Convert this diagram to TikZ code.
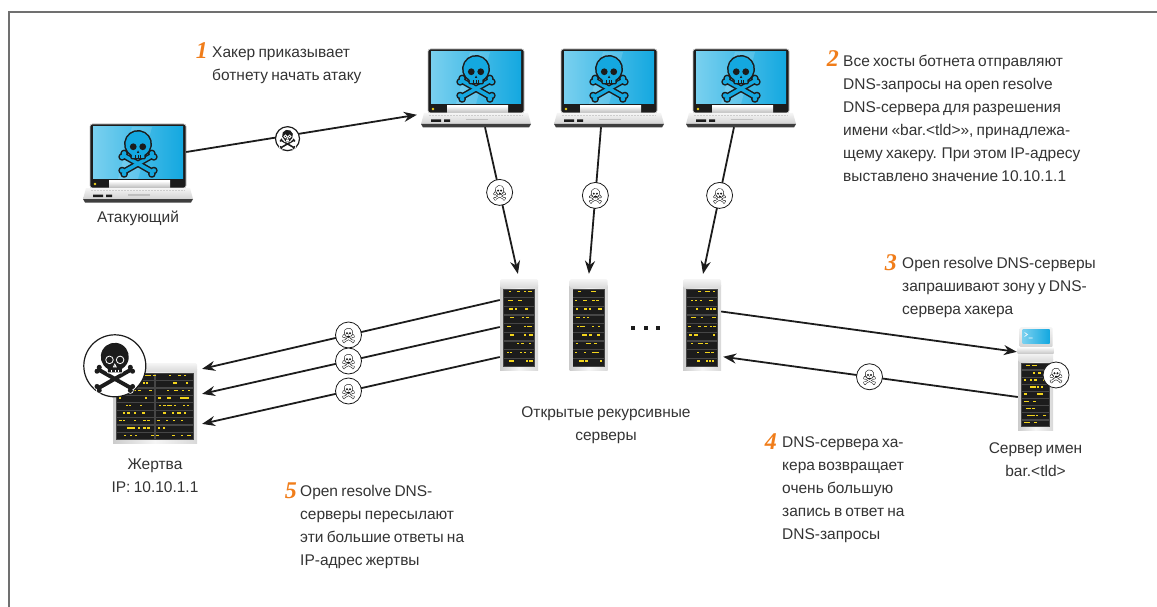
\documentclass[tikz,border=0pt]{standalone}
\usepackage{fontspec}
\setmainfont{Liberation Sans}[WordSpace={0.75}]
\newfontfamily\stepfont{Liberation Serif}
\usepackage{tikz}
\usetikzlibrary{arrows.meta,calc,positioning}
\definecolor{Ink}{HTML}{1C1C1C}
\definecolor{TextGray}{HTML}{333333}
\definecolor{Frame}{HTML}{707070}
\definecolor{Screen}{HTML}{14A8E0}
\definecolor{ScreenLight}{HTML}{79D0EF}
\definecolor{StepOrange}{HTML}{F07D1A}
\definecolor{Led}{HTML}{F2D41C}
\newcommand\mainsize{\fontsize{15.5}{23}\selectfont}
% skull parts, unit = head radius, y grows downwards
\newcommand\bonepath{(-1.169,1.072) -- (-1.031,.828) -- (1.169,2.078) -- (1.031,2.322) -- cycle
  (-1.27,1.03) circle[radius=.18] (-1.11,.75) circle[radius=.18]
  (1.11,2.40) circle[radius=.18] (1.27,2.12) circle[radius=.18]}
\newcommand\headpath{(-.5,1.12) -- (-.5,.866) arc[start angle=120,end angle=420,radius=1] -- (.5,1.12) -- cycle}
\tikzset{
  flow/.style={draw=Ink,line width=1.8pt,-{Stealth[length=13pt,width=10pt]},shorten >=5pt},
  device/.style={inner sep=0pt,draw=none},
  badge/.style={circle,draw=Ink,fill=white,line width=.8pt,minimum size=26pt,inner sep=0pt},
  darkbadge/.style={circle,draw=Ink,fill=white,line width=1.2pt,inner sep=0pt},
  note/.style={align=left,anchor=north west,inner sep=0pt},
  caption/.style={align=center,inner sep=0pt},
  stepnum/.style={font=\stepfont\bfseries\itshape\fontsize{24}{24}\selectfont,text=StepOrange,inner sep=0pt,anchor=base east},
  screen skull/.style={skull rim/.style={fill=Ink,draw=Ink,line width=3pt,line join=round},
    skull body/.style={fill=Screen},skull eye/.style={fill=Ink},skull teeth/.style={draw=Ink,line width=1pt}},
  badge skull/.style={skull rim/.style={fill=Ink,draw=Ink,line width=1.1pt,line join=round},
    skull body/.style={fill=white},skull eye/.style={fill=Ink},skull teeth/.style={draw=Ink,line width=.4pt}},
  dark skull/.style={skull rim/.style={fill=white,draw=white,line width=1.6pt,line join=round},
    skull body/.style={fill=Ink},skull eye/.style={fill=Ink,draw=white,line width=.8pt},skull teeth/.style={draw=white,line width=.6pt}},
  pics/skull/.style={code={
    \path[skull rim] \bonepath; \path[skull rim,xscale=-1] \bonepath;
    \path[skull body] \bonepath; \path[skull body,xscale=-1] \bonepath;
    \path[skull rim] \headpath; \path[skull body] \headpath;
    \path[skull eye] (-.38,.22) circle[radius=.27] (.38,.22) circle[radius=.27];
    \path[skull eye] (0,.52) -- (-.1,.72) -- (.1,.72) -- cycle;
    \draw[skull teeth] (-.22,.92) -- (-.22,1.12) (0,.92) -- (0,1.12) (.22,.92) -- (.22,1.12);
  }},
  pics/laptop/.style={code={
    % lid
    \fill[Ink,rounded corners=2.5pt] (-48,-39) rectangle (48,25);
    \draw[gray!45,line width=.7pt,rounded corners=2.5pt] (-48,-39) rectangle (48,25);
    \shade[left color=ScreenLight,right color=Screen] (-45,-36) rectangle (45,16);
    \fill[white,opacity=.15] (-6,-36) -- (14,-36) -- (0,16) -- (-20,16) -- cycle;
    \pic[scale=12.5,screen skull] at (0,-19) {skull};
    \fill[Led] (-43,21) circle[radius=1.4];
    \shade[top color=white,bottom color=gray!55] (-29,18) rectangle (32,25);
    % keyboard deck
    \shade[top color=gray!8,bottom color=gray!35] (-52,25) -- (52,25) -- (55,36) -- (-55,36) -- cycle;
    \draw[gray!40,dash pattern=on 2pt off 1pt,line width=1pt] (-47,27.5) -- (47,27.5);
    \fill[gray!50] (-10,31) rectangle (12,32.5);
    \fill[Ink!85] (-55,36) -- (55,36) -- (53,39.5) -- (-53,39.5) -- cycle;
    \fill[Ink] (-45,31.5) rectangle (-35,34) (-32,31.5) rectangle (-26,34);
  }},
  pics/rack/.style n args={3}{code={
    \pgfmathsetmacro\hw{#1/2}\pgfmathsetmacro\hh{#2/2}
    \pgfmathsetmacro\rowh{(#2-13)/9}\pgfmathsetmacro\colw{(#1-6)/#3}
    \pgfmathtruncatemacro\nled{5*#3}
    \shade[left color=gray!40,right color=gray!30,middle color=gray!8] (-\hw,-\hh+6) rectangle (\hw,\hh);
    \shade[top color=gray!8,bottom color=gray!30,rounded corners=1.5pt] (-\hw,-\hh) rectangle (\hw,-\hh+9);
    \fill[gray!55!black] (-\hw+3,-\hh+10) rectangle (\hw-3,\hh-3);
    \foreach \r in {0,...,8}{
      \pgfmathsetmacro\ry{-\hh+10+\r*\rowh}
      \foreach \c in {1,...,#3}
        \fill[Ink] ({-\hw+3+(\c-1)*\colw+.7},{\ry+.7}) rectangle ({-\hw+3+\c*\colw-.7},{\ry+\rowh-.7});
      \foreach \k in {1,...,\nled}
        \fill[Led] ({-\hw+5+rnd*(#1-12)},{\ry+2}) rectangle +(2.4,1.4);
    }
  }},
  pics/nameserver/.style={code={
    \pic at (0,13) {rack={35}{77}{1}};
    \shade[top color=gray!8,bottom color=gray!35,rounded corners=1.5pt] (-16,-51.5) rectangle (17,-31);
    \shade[left color=ScreenLight,right color=Screen] (-13,-49) rectangle (14,-35);
    \draw[white,line width=.6pt] (-11,-46) -- (-8,-44) -- (-11,-42) (-7,-40.5) -- (-3,-40.5);
    \shade[top color=gray!5,bottom color=gray!40] (-18,-31) rectangle (18,-25.5);
  }},
}
\pgfmathsetseed{7}
\begin{document}
\begin{tikzpicture}[x=1pt,y=-1pt,every node/.style={font=\mainsize,text=TextGray}]
  \useasboundingbox (0,0) rectangle (1157,607);
  \draw[Frame,line width=1.5pt] (1157,12) -- (9,12) -- (9,607);

  % machines
  \node[device,minimum width=108pt,minimum height=78pt] (att) at (138,163) {};
  \node[device,minimum width=108pt,minimum height=78pt] (bot1) at (476,88) {};
  \node[device,minimum width=108pt,minimum height=78pt] (bot2) at (609,88) {};
  \node[device,minimum width=108pt,minimum height=78pt] (bot3) at (741,88) {};
  \node[device,minimum width=38pt,minimum height=91pt] (rack1) at (519,324.5) {};
  \node[device,minimum width=38pt,minimum height=91pt] (rack2) at (588.5,324.5) {};
  \node[device,minimum width=38pt,minimum height=91pt] (rack3) at (702,324.5) {};
  \node[device,minimum width=84pt,minimum height=80pt] (victim) at (155,403) {};
  \node[device,minimum width=35pt,minimum height=103pt] (hs) at (1035.5,378.5) {};
  \foreach \b in {att,bot1,bot2,bot3} \pic at (\b) {laptop};
  \foreach \r in {rack1,rack2,rack3} \pic at (\r) {rack={38}{91}{1}};
  \pic at (victim) {rack={84}{80}{2}};
  \pic at (hs) {nameserver};
  \foreach \x in {633,646,658} \fill[Ink] (\x-2,326) rectangle +(4,4);

  % traffic
  \draw[flow] ([xshift=-6pt,yshift=11pt]att.east) -- coordinate[pos=.43] (m0) ([yshift=-26pt]bot1.west);
  \draw[flow] ([xshift=9pt]bot1.south) -- coordinate[pos=.43] (m1) (rack1.north);
  \draw[flow] ([xshift=-8pt]bot2.south) -- coordinate[pos=.45] (m2) (rack2.north);
  \draw[flow] ([xshift=-7pt]bot3.south) -- coordinate[pos=.45] (m3) (rack3.north);
  \draw[flow] ([yshift=24.5pt]rack1.west) -- coordinate (m4) ([yshift=33pt]victim.east);
  \draw[flow] ([yshift=-2.5pt]rack1.west) -- coordinate (m5) ([yshift=8pt]victim.east);
  \draw[flow] ([yshift=-32.5pt]rack1.west) -- coordinate (m6) ([yshift=-22pt]victim.east);
  \draw[flow,shorten >=1pt] ([yshift=13pt]rack3.east) -- ([yshift=26.5pt]hs.west);
  \draw[flow,shorten >=2pt] ([yshift=-18.5pt]hs.west) -- coordinate (m7) ([yshift=-32pt]rack3.east);
  \coordinate (m8) at ([xshift=20.5pt,yshift=3.5pt]hs.center);

  \foreach \m in {m1,m2,m3,m4,m5,m6,m7,m8}{
    \node[badge] (b\m) at (\m) {};
    \pic[scale=4,badge skull] at ([yshift=2.6pt]b\m.center) {skull};
  }
  \node[darkbadge,minimum size=24pt] (bm0) at ([yshift=-3pt]m0) {};
  \pic[scale=5.5,dark skull] at ([yshift=3.4pt]bm0.center) {skull};
  \node[darkbadge,minimum size=62pt] (vbadge) at ([xshift=2pt,yshift=-3pt]victim.north west) {};
  \pic[scale=14,dark skull] at ([yshift=9pt]vbadge.center) {skull};

  % captions
  \node[caption,below=8.5pt of att] (attlbl) {Атакующий};
  \node[caption,below=15pt of victim] (vlbl) {Жертва\\IP: 10.10.1.1};
  \node[caption,below=12pt of hs] (hslbl) {Сервер имен\\bar.<tld>};
  \node[caption,anchor=north] (racklbl) at (606,406) {Открытые рекурсивные\\серверы};

  % numbered steps
  \node[stepnum] (s1) at (208,59) {1};
  \node[note] (t1) at (212,47) {Хакер приказывает\\ботнету начать атаку};
  \node[stepnum] (s2) at (839,67) {2};
  \node[note] (t2) at (843,55) {Все хосты ботнета отправляют\\DNS-запросы на open resolve\\DNS-сервера для разрешения\\имени «bar.<tld>», принадлежа-\\щему хакеру. При этом IP-адресу\\выставлено значение 10.10.1.1};
  \node[stepnum] (s3) at (897,270) {3};
  \node[note] (t3) at (902,257) {Open resolve DNS-серверы\\запрашивают зону у DNS-\\сервера хакера};
  \node[stepnum] (s4) at (777,449) {4};
  \node[note] (t4) at (782,436) {DNS-сервера ха-\\кера возвращает\\очень большую\\запись в ответ на\\DNS-запросы};
  \node[stepnum] (s5) at (297,498) {5};
  \node[note] (t5) at (300,485) {Open resolve DNS-\\серверы пересылают\\эти большие ответы на\\IP-адрес жертвы};
\end{tikzpicture}
\end{document}
